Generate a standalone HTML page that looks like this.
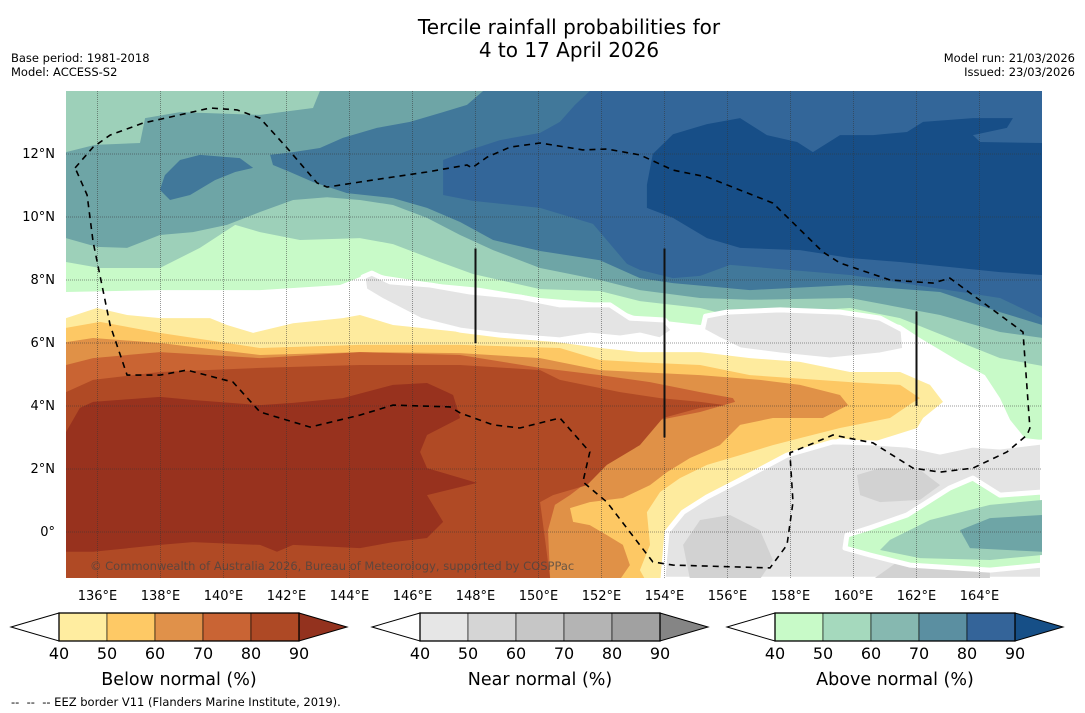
<!DOCTYPE html>
<html><head><meta charset="utf-8"><title>Tercile rainfall probabilities</title>
<style>
html,body{margin:0;padding:0;background:#fff;}
svg{display:block;font-family:"DejaVu Sans","Liberation Sans",sans-serif;}
</style></head>
<body>
<svg id="chart" width="1085" height="713" viewBox="0 0 1085 713" xmlns="http://www.w3.org/2000/svg">
<rect x="0" y="0" width="1085" height="713" fill="#fff"/>
<text x="569" y="34" font-size="20" text-anchor="middle" fill="#000">Tercile rainfall probabilities for</text>
<text x="569" y="57" font-size="20" text-anchor="middle" fill="#000">4 to 17 April 2026</text>
<text x="11" y="62" font-size="11.5">Base period: 1981-2018</text>
<text x="11" y="76" font-size="11.5">Model: ACCESS-S2</text>
<text x="1075" y="62" font-size="11.5" text-anchor="end">Model run: 21/03/2026</text>
<text x="1075" y="76" font-size="11.5" text-anchor="end">Issued: 23/03/2026</text>
<defs><clipPath id="mapclip"><rect x="66" y="91" width="976" height="487"/></clipPath></defs>
<g id="map" clip-path="url(#mapclip)"></g>
<g id="axes"></g>
<text x="90" y="570" font-size="11.5" fill="#444" fill-opacity="0.75">© Commonwealth of Australia 2026, Bureau of Meteorology, supported by COSPPac</text>
<g id="bars"></g>
<text x="11" y="706" font-size="11.5">-- &#160;-- &#160;-- EEZ border V11 (Flanders Marine Institute, 2019).</text>
</svg>
<script>
// ---- map extent / axes ----
const lonMin = 135, latMax = 14, pxPerDeg = 31.5;
const lonTicks = [136,138,140,142,144,146,148,150,152,154,156,158,160,162,164];
const latTicks = [0,2,4,6,8,10,12];
const lonTickLabels = ["136°E","138°E","140°E","142°E","144°E","146°E","148°E","150°E","152°E","154°E","156°E","158°E","160°E","162°E","164°E"];
const latTickLabels = ["0°","2°N","4°N","6°N","8°N","10°N","12°N"];

// ---- probability contour polygons (flat lon,lat pairs) ----
const above40 = [135,14,166,14,166,2.92,165.44,2.98,164.97,3.56,164.65,4.25,164.17,4.98,163.38,5.40,162.11,6.16,161.48,6.57,159.57,6.98,156.71,6.89,155.13,6.57,153.22,6.79,151.95,7.27,150.05,7.43,148.14,7.75,146.87,7.87,145.13,8.13,144.71,8.25,144.43,8.13,143.70,7.84,141.16,7.68,137.98,7.68,135,7.62];
const above50 = [135,14,166,14,166,5.27,164.65,5.52,163.38,6.03,161.48,6.79,159.89,7.11,157.98,6.98,156.40,6.79,155.13,7.11,153.22,7.33,151.95,7.65,150.05,7.71,147.92,8.19,146.87,8.57,145.38,9.14,144.33,9.33,142.43,9.27,141.16,9.52,140.37,9.75,139.25,9.02,137.98,8.38,136.08,8.38,135,8.57];
const above60 = [135,12.06,135.92,12.29,137.35,12.35,137.51,13.14,138.62,13.33,141.16,13.24,142.84,13.46,143.06,14,166,14,166,6.16,164.65,6.35,162.75,6.89,159.89,7.43,156.71,7.37,155.13,7.43,153.22,7.68,151.95,8.0,150.05,8.38,148.56,8.95,147.51,9.43,146.46,9.97,145.38,10.38,144.33,10.54,143.29,10.63,142.21,10.54,141.16,10.16,140.11,9.75,139.03,9.52,137.98,9.43,136.94,9.02,135.98,9.05,135,9.33];
const above70 = [141.48,11.97,142.21,12.06,143.06,12.19,143.79,12.51,144.87,12.83,145.92,13.02,146.97,13.33,147.73,13.56,148.24,14,166,14,166,6.57,164.65,6.98,162.75,7.62,159.89,7.84,156.71,7.68,154.27,7.90,153.22,8.06,151.95,8.63,150.05,8.92,148.56,9.27,147.51,9.84,146.46,10.29,145.38,10.60,143.92,10.76,142.84,11.11,142.11,11.43,141.57,11.65];
const above70b = [137.98,10.86,138.14,11.33,138.62,11.81,139.25,11.97,140.52,11.87,140.94,11.56,140.37,11.43,139.73,11.17,138.94,10.70,138.30,10.54];
const above80 = [146.97,10.70,146.97,11.81,147.83,12.13,148.78,12.44,150.05,12.67,150.68,13.02,151.16,13.56,151.63,14,166,14,166,6.79,164.65,7.43,159.89,8.16,156.08,8.48,155.13,8.13,154.27,8.06,153.22,8.32,152.81,8.51,151.73,9.78,150.05,10.29,147.92,10.51];
const above90 = [153.44,10.29,153.44,11.02,153.63,12.0,154.27,12.63,155.35,12.95,156.40,13.14,157.25,12.60,158.21,12.38,158.71,12.06,159.57,12.60,160.62,12.60,161.70,12.70,162.21,13.02,163.79,13.14,165.06,13.14,164.87,12.83,163.79,12.60,164.02,12.38,166,12.35,166,8.16,164.65,8.25,161.48,8.57,159.89,8.70,158.30,8.95,156.40,9.02,155.35,9.33,154.27,9.97];
const below40 = [135,6.79,135.98,7.11,136.94,6.89,137.98,6.79,139.57,6.79,140.11,6.57,140.94,6.32,142.21,6.63,143.79,6.79,144.33,6.89,145.38,6.57,147.51,6.35,150.05,6.10,151.95,5.84,153.22,5.71,155.13,5.71,156.71,5.52,158.30,5.40,159.89,5.08,161.48,5.08,162.43,4.67,162.84,4.13,162.21,3.62,162.02,3.30,160.62,2.86,159.57,2.98,158.30,2.54,157.89,2.13,156.40,1.71,155.35,1.17,154.59,0.63,154.08,0.0,153.95,-0.83,153.92,-1.5,135,-1.5];
const below50 = [135,6.48,136.08,6.67,137.98,6.32,141.16,5.84,144.33,5.94,147.51,5.94,150.68,5.84,151.95,5.46,153.54,5.37,155.13,5.30,156.71,4.98,159.89,4.76,161.48,4.67,162.11,4.25,161.86,4.10,161.16,3.62,159.57,3.30,158.30,2.98,157.44,2.76,156.40,2.44,155.35,2.13,154.49,1.71,153.86,1.27,153.44,0.63,153.54,-0.41,153.22,-1.21,153.38,-1.5,135,-1.5];
const below60 = [135,6.03,135.86,6.16,137.98,6.0,141.16,5.62,144.33,5.71,147.51,5.68,150.05,5.52,151.95,5.14,155.13,4.98,157.03,4.83,158.30,4.67,159.57,4.35,159.83,4.03,159.03,3.62,157.44,3.62,156.40,3.40,155.76,2.76,154.81,2.35,154.08,1.90,153.54,1.49,152.68,1.08,151.63,0.95,151.0,0.76,151.10,0.32,151.63,0.22,152.17,-0.10,152.68,-0.41,152.90,-1.05,152.59,-1.5,135,-1.5];
const below70 = [135,5.30,135.86,5.52,137.98,5.71,141.16,5.52,144.33,5.71,147.51,5.62,150.05,5.21,151.95,4.98,153.54,4.76,155.13,4.44,156.17,4.25,156.24,4.13,155.13,3.81,153.86,3.56,152.90,2.92,152.17,2.29,151.63,1.65,151.0,1.17,150.52,0.86,150.30,0.06,150.37,-1.5,135,-1.5];
const below80 = [135,4.44,135.86,4.83,137.98,5.08,141.16,5.21,144.33,5.30,147.51,5.30,150.05,5.14,150.68,4.83,152.59,4.44,153.86,4.25,155.13,4.13,155.92,4.03,155.13,3.94,153.95,3.62,153.22,2.76,152.17,2.13,151.54,1.49,150.46,1.17,150.05,0.95,150.21,-0.25,150.37,-1.5,135,-1.5];
const below90 = [135,3.17,135.44,3.94,135.86,4.13,137.98,4.29,139.03,4.19,141.16,4.03,142.21,4.10,143.79,4.25,145.38,4.67,146.46,4.73,147.10,4.44,147.29,4.35,147.51,3.62,146.46,3.08,146.24,2.54,146.46,2.03,148.05,1.56,146.46,1.17,146.97,0.32,146.46,-0.19,145.38,-0.32,144.33,-0.51,142.21,-0.41,141.70,-0.63,141.16,-0.41,139.03,-0.32,137.98,-0.41,135.86,-0.63,135,-0.63];
const near40a = [144.43,8.10,144.71,8.22,145.29,7.94,146.56,7.84,147.83,7.62,149.41,7.46,150.68,7.21,152.27,7.21,152.90,6.79,154.0,6.73,154.3,6.4,153.86,6.10,153.22,6.25,152.59,6.16,151.63,6.25,150.68,6.10,148.78,6.25,147.51,6.41,146.24,6.73,145.0,7.37,144.49,7.68];
const near40b = [155.3,6.85,155.98,6.98,157.67,7.05,159.57,6.98,160.84,6.79,161.57,6.41,161.63,5.78,160.84,5.62,159.25,5.46,157.67,5.62,156.40,5.78,155.76,6.10,155.2,6.4];
const near40c = [153.95,-1.5,154.08,0.0,154.59,0.63,155.35,1.11,156.40,1.65,157.89,2.44,159.35,2.86,160.62,2.83,161.70,2.76,162.75,2.54,163.79,2.76,164.65,2.70,166,2.86,166,-1.5];
const near50a = [160.11,1.81,160.84,2.03,162.11,1.97,162.75,1.49,162.11,1.02,160.84,0.95,160.21,1.17];
const near50b = [154.59,-0.41,155.13,0.38,156.08,0.54,157.03,0.06,157.44,-0.89,157.03,-1.5,154.81,-1.5];
const near50c = [160.62,-1.5,161.48,-0.89,163.38,-0.73,164.33,-1.21,164.33,-1.5];
const aboveSE40 = [166,1.27,164.65,1.17,163.79,1.71,163.06,1.40,161.70,0.54,160.52,0.13,159.79,-0.10,159.73,-0.51,160.52,-0.73,161.79,-1.05,164.33,-1.21,166,-1.05];
const aboveSE50 = [166,1.02,164.33,0.86,162.43,0.38,161.16,-0.25,160.84,-0.57,162.11,-0.83,164.33,-0.89,166,-0.73];
const aboveSE60 = [166,0.54,164.33,0.44,163.38,0.06,163.70,-0.51,166,-0.63];
const eezBorder = [135.29,11.56,135.86,12.22,136.40,12.60,137.44,12.98,138.30,13.17,139.57,13.46,140.43,13.40,141.16,13.14,142.02,12.19,142.97,11.08,143.29,10.95,144.33,11.11,145.38,11.27,146.46,11.43,147.73,11.65,147.89,11.56,148.37,11.90,149.10,12.22,150.05,12.35,151.41,12.13,152.17,12.16,153.22,11.97,154.27,11.49,155.35,11.27,157.44,10.44,159.03,8.89,159.57,8.54,161.16,8.0,162.52,7.90,163.06,8.06,165.38,6.35,165.60,3.30,165.51,3.08,164.87,2.54,163.79,2.03,162.75,1.90,161.89,2.03,160.62,2.83,159.35,3.08,157.98,2.51,158.08,0.95,157.89,-0.41,157.35,-1.14,154.27,-1.05,153.63,-0.95,152.17,0.95,151.41,1.59,151.63,2.54,150.68,3.62,149.41,3.30,148.56,3.40,147.51,3.78,147.19,3.97,145.38,4.03,144.33,3.71,142.75,3.33,141.16,3.81,140.30,4.76,138.84,5.14,137.98,4.98,136.94,4.98,136.40,6.57,135.86,9.21,135.67,10.70,135.29,11.56];
const boundaryLines = [[148,6,9],[154,3,9],[162,4,7]];

// ---- colour bars ----
const barTicks = [40,50,60,70,80,90];
const belowColors = ["#ffeda0","#fec965","#e0914a","#c96434","#ae4925","#93321e"];
const nearColors = ["#e6e6e6","#d5d5d5","#c6c6c6","#b4b4b4","#a1a1a1","#858585"];
const aboveColors = ["#c8fac8","#a5d9bd","#86b8b0","#5b8fa1","#346499","#164f87"];
const barTitles = ["Below normal (%)","Near normal (%)","Above normal (%)"];

const NS = "http://www.w3.org/2000/svg";
const X = lon => 66 + (lon - lonMin) * pxPerDeg;
const Y = lat => 91 + (latMax - lat) * pxPerDeg;
function ptsOf(arr){ let s=[]; for(let i=0;i<arr.length;i+=2){ s.push(X(arr[i]).toFixed(1)+","+Y(arr[i+1]).toFixed(1)); } return s.join(" "); }
function mk(tag, parent){ const e=document.createElementNS(NS,tag); parent.appendChild(e); return e; }

const map = document.getElementById("map");
const layers = [
  [above40,"#c8fac8",null,"above-40-region"],
  [above50,"#9dd0b9",null,"above-50-region"],
  [above60,"#6ea5a6",null,"above-60-region"],
  [above70,"#41789a",null,"above-70-region"],
  [above70b,"#41789a",null,"above-70-blob"],
  [above80,"#336699",null,"above-80-region"],
  [above90,"#174e87",null,"above-90-region"],
  [below40,"#feeb9e",null,"below-40-region"],
  [below50,"#fdc864",null,"below-50-region"],
  [below60,"#e09147",null,"below-60-region"],
  [below70,"#c96433",null,"below-70-region"],
  [below80,"#b04a25",null,"below-80-region"],
  [below90,"#98321e",null,"below-90-region"],
  [near40a,"#e4e4e4","#fff","near-40-region-west"],
  [near40b,"#e4e4e4","#fff","near-40-region-east"],
  [near40c,"#e4e4e4","#fff","near-40-region-south"],
  [near50a,"#d2d2d2",null,"near-50-patch-1"],
  [near50b,"#d2d2d2",null,"near-50-patch-2"],
  [near50c,"#d2d2d2",null,"near-50-patch-3"],
  [aboveSE40,"#c8fac8","#fff","above-40-southeast"],
  [aboveSE50,"#9dd0b9",null,"above-50-southeast"],
  [aboveSE60,"#6ea5a6",null,"above-60-southeast"]
];
layers.forEach(L=>{
  const p = mk("polygon", map);
  p.setAttribute("points", ptsOf(L[0]));
  p.setAttribute("fill", L[1]);
  if(L[2]){ p.setAttribute("stroke", L[2]); p.setAttribute("stroke-width","5"); p.setAttribute("stroke-linejoin","round"); }
  
  
});
// gridlines
lonTicks.forEach(v=>{
  const l = mk("line", map);
  l.setAttribute("x1",X(v)); l.setAttribute("x2",X(v)); l.setAttribute("y1",91); l.setAttribute("y2",578);
  l.setAttribute("stroke","#333"); l.setAttribute("stroke-opacity","0.5"); l.setAttribute("stroke-dasharray","1,1");
  
  
});
latTicks.forEach(v=>{
  const l = mk("line", map);
  l.setAttribute("y1",Y(v)); l.setAttribute("y2",Y(v)); l.setAttribute("x1",66); l.setAttribute("x2",1042);
  l.setAttribute("stroke","#333"); l.setAttribute("stroke-opacity","0.5"); l.setAttribute("stroke-dasharray","1,1");
  
  
});
// EEZ
const eez = mk("polyline", map);
eez.setAttribute("points", ptsOf(eezBorder));
eez.setAttribute("fill","none"); eez.setAttribute("stroke","#000"); eez.setAttribute("stroke-width","1.6"); eez.setAttribute("stroke-dasharray","6,5");


boundaryLines.forEach(b=>{
  const l = mk("line", map);
  l.setAttribute("x1",X(b[0])); l.setAttribute("x2",X(b[0])); l.setAttribute("y1",Y(b[2])); l.setAttribute("y2",Y(b[1]));
  l.setAttribute("stroke","#111"); l.setAttribute("stroke-width","2");
  
  
});
// axis labels
const axes = document.getElementById("axes");
lonTicks.forEach((v,i)=>{
  const t = mk("text", axes);
  t.setAttribute("x",X(v)); t.setAttribute("y",600); t.setAttribute("font-size","13"); t.setAttribute("text-anchor","middle");
  t.textContent = lonTickLabels[i];
  
  
});
latTicks.forEach((v,i)=>{
  const t = mk("text", axes);
  t.setAttribute("x",55); t.setAttribute("y",Y(v)+4); t.setAttribute("font-size","13"); t.setAttribute("text-anchor","end");
  t.textContent = latTickLabels[i];
  
  
});
// colour bars
const bars = document.getElementById("bars");
const barStarts = [59,420,775];
const segW = 48, barTop = 613, barBot = 641, triW = 48;
[belowColors,nearColors,aboveColors].forEach((cols,bi)=>{
  const x0 = barStarts[bi], mid=(barTop+barBot)/2;
  const lt = mk("polygon", bars);
  lt.setAttribute("points", `${x0},${barTop} ${x0-triW},${mid} ${x0},${barBot}`);
  lt.setAttribute("fill","#fff"); lt.setAttribute("stroke","#000"); lt.setAttribute("stroke-width","1");
  
  
  for(let k=0;k<5;k++){
    const r = mk("rect", bars);
    r.setAttribute("x", x0+k*segW); r.setAttribute("y",barTop); r.setAttribute("width",segW); r.setAttribute("height",barBot-barTop);
    r.setAttribute("fill", cols[k]); r.setAttribute("stroke","#000"); r.setAttribute("stroke-width","0.6");
    
    
  }
  const xe = x0+5*segW;
  const rt = mk("polygon", bars);
  rt.setAttribute("points", `${xe},${barTop} ${xe+triW},${mid} ${xe},${barBot}`);
  rt.setAttribute("fill", cols[5]); rt.setAttribute("stroke","#000"); rt.setAttribute("stroke-width","1");
  
  
  const ol = mk("rect", bars);
  ol.setAttribute("x",x0); ol.setAttribute("y",barTop); ol.setAttribute("width",5*segW); ol.setAttribute("height",barBot-barTop);
  ol.setAttribute("fill","none"); ol.setAttribute("stroke","#000"); ol.setAttribute("stroke-width","1.3");
  
  
  barTicks.forEach((v,k)=>{
    const t = mk("text", bars);
    t.setAttribute("x", x0+k*segW); t.setAttribute("y", 659); t.setAttribute("font-size","16"); t.setAttribute("text-anchor","middle");
    t.textContent = v;
    
    
  });
  const tt = mk("text", bars);
  tt.setAttribute("x", x0+2.5*segW); tt.setAttribute("y", 685); tt.setAttribute("font-size","17.5"); tt.setAttribute("text-anchor","middle");
  tt.textContent = barTitles[bi];
  
  
});
</script>
</body></html>
